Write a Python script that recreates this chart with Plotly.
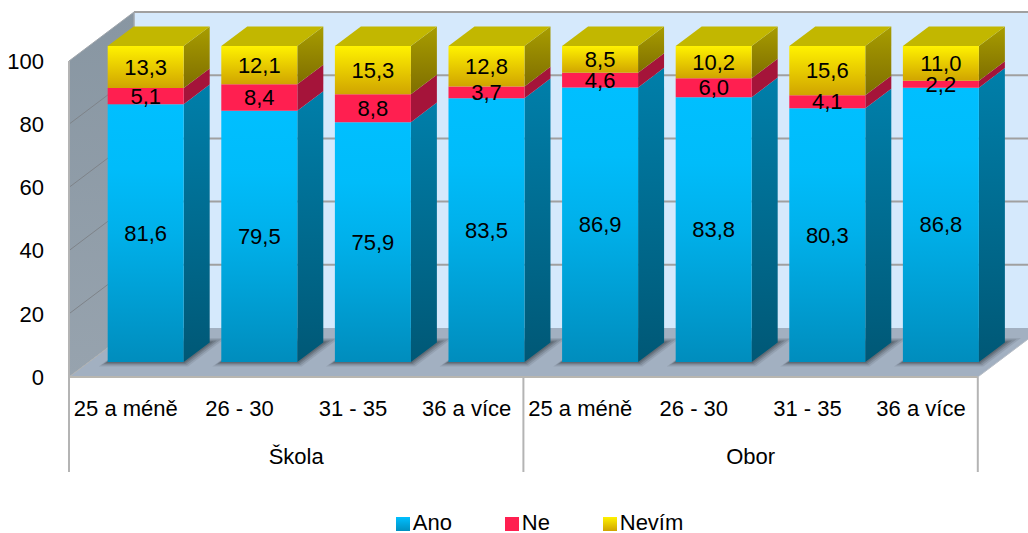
import plotly.graph_objects as go

groups = ["Škola", "Obor"]
categories = ["25 a méně", "26 - 30", "31 - 35", "36 a více"] * 2
ano = [81.6, 79.5, 75.9, 83.5, 86.9, 83.8, 80.3, 86.8]
ne = [5.1, 8.4, 8.8, 3.7, 4.6, 6.0, 4.1, 2.2]
nevim = [13.3, 12.1, 15.3, 12.8, 8.5, 10.2, 15.6, 11.0]
series_names = ["Ano", "Ne", "Nevím"]
y_ticks = [0, 20, 40, 60, 80, 100]

W, H = 1028, 533
PITCH = 113.6      # px per category
SCALE = 3.16       # px per value unit
LEFT = 60
X0 = 69            # px of front plane start
Y0 = 377           # px of value 0 on the front plane
DEPTH_X = 65 / PITCH
DEPTH_Y = 49 / SCALE
BAR_W = 76 / PITCH
D1, D2 = 0.306, 0.706  # bar depth span
FONT = "Liberation Sans, Arial, sans-serif"
FS = 22
TEXT_NUDGE = 2 / SCALE
n = len(categories)

xmin = (LEFT - X0) / PITCH
xmax = (W - X0) / PITCH
ymin = (Y0 - H) / SCALE
ymax = Y0 / SCALE


def pr(x, y, d=0.0):
    """Oblique projection: x (category units), y (value), d (depth 0..1)."""
    return x + d * DEPTH_X, y + d * DEPTH_Y


def poly(pts):
    xs, ys = zip(*[pr(*p) for p in pts])
    return list(xs) + [xs[0]], list(ys) + [ys[0]]


fig = go.Figure()


def face(pts, color=None, grad=None):
    xs, ys = poly(pts)
    t = dict(x=xs, y=ys, mode="none", fill="toself", hoverinfo="skip", showlegend=False)
    if grad:
        t["fillgradient"] = dict(type="vertical", colorscale=grad)
    else:
        t["fillcolor"] = color
    fig.add_trace(go.Scatter(**t))


def line(pts, color, width):
    xs, ys = zip(*[pr(*p) for p in pts])
    fig.add_trace(go.Scatter(x=list(xs), y=list(ys), mode="lines", hoverinfo="skip", showlegend=False,
                             line=dict(color=color, width=width), cliponaxis=False))


# Walls and floor
face([(0, 0, 1), (9, 0, 1), (9, 100, 1), (0, 100, 1)], color="#D5E9FC")
face([(0, 0, 0), (0, 0, 1), (0, 100, 1), (0, 100, 0)],
     grad=[[0, "#97A3AE"], [1, "#8896A2"]])
face([(0, 0, 0), (8, 0, 0), (8, 0, 1), (0, 0, 1)], color="#A2B0C1")

for t in y_ticks[1:-1]:
    line([(0, t, 1), (9, t, 1)], "#A0A0A0", 2)
    line([(0, t, 0), (0, t, 1)], "#7E8389", 1)
line([(0, 100, 1), (9, 100, 1)], "#A0A0A0", 2)
line([(0, 100, 0), (0, 100, 1)], "#A0A6AC", 1)
line([(0, 100, 1), (0, 0, 1)], "#A0A6AC", 1.5)
line([(0, 0, 0), (0, 0, 1)], "#AEB0B0", 1)
line([(8, 0, 0), (8, 0, 1)], "#B8BEC6", 1)

# Soft shadows on the floor
for grow, alpha in [(0.09, 0.10), (0.065, 0.16), (0.04, 0.2), (0.02, 0.22)]:
    for i in range(n):
        c = i + 0.5
        a = c - BAR_W / 2 - grow * 0.3
        b = c + BAR_W / 2 + grow
        d1, d2 = D1 - grow, D2 + grow
        face([(a, 0, d1), (b, 0, d1), (b, 0, d2), (a, 0, d2)], color=f"rgba(40,44,50,{alpha})")

# Bars
front_grads = [
    [[0, "#008DBD"], [0.5, "#00B0EA"], [0.75, "#00BCFA"], [1, "#00BFFF"]],
    [[0, "#FF1F50"], [1, "#FF1F50"]],
    [[0, "#D0A400"], [1, "#FFF200"]],
]
side_grads = [
    [[0, "#005876"], [1, "#007FAA"]],
    [[0, "#A5143A"], [1, "#A5143A"]],
    [[0, "#7F6E00"], [1, "#A89D00"]],
]
series = [ano, ne, nevim]
for i in range(n):
    c = i + 0.5
    a, b = c - BAR_W / 2, c + BAR_W / 2
    base = 0.0
    for s, vals in enumerate(series):
        top = base + vals[i]
        face([(b, base, D1), (b, base, D2), (b, top, D2), (b, top, D1)], grad=side_grads[s])
        face([(a, base, D1), (b, base, D1), (b, top, D1), (a, top, D1)], grad=front_grads[s])
        base = top
    face([(a, base, D1), (b, base, D1), (b, base, D2), (a, base, D2)], color="#C2B700")

# Value labels
for vals, start in zip(series, [[0] * n, ano, [p + q for p, q in zip(ano, ne)]]):
    xs, ys = [], []
    for i in range(n):
        x, y = pr(i + 0.5, start[i] + vals[i] / 2, D1)
        xs.append(x)
        ys.append(y - TEXT_NUDGE)
    fig.add_trace(go.Scatter(x=xs, y=ys, mode="text", hoverinfo="skip", showlegend=False, cliponaxis=False,
                             text=[f"{v:.1f}".replace(".", ",") for v in vals],
                             textposition="middle center",
                             textfont=dict(family=FONT, size=FS, color="#000000")))

# Multi-level category axis
AXIS_LINE = "#B4B4B4"
CAT_Y = (Y0 - 410) / SCALE
GRP_Y = (Y0 - 458) / SCALE
SEP_Y = (Y0 - 472) / SCALE
line([(0, 0, 0), (8, 0, 0)], "#B8B6B0", 2)
for k in (0, 4, 8):
    line([(k, 100 if k == 0 else 0, 0), (k, SEP_Y, 0)], AXIS_LINE, 2)
fig.add_trace(go.Scatter(x=[i + 0.5 for i in range(n)], y=[CAT_Y] * n, mode="text", hoverinfo="skip",
                         showlegend=False, cliponaxis=False, text=categories, textposition="middle center",
                         textfont=dict(family=FONT, size=FS, color="#000000")))
fig.add_trace(go.Scatter(x=[2, 6], y=[GRP_Y] * 2, mode="text", hoverinfo="skip", showlegend=False,
                         cliponaxis=False, text=groups, textposition="middle center",
                         textfont=dict(family=FONT, size=FS, color="#000000")))

# Legend keys, placed exactly as in the reference
legend_px = [403, 512, 610]
legend_top = ["#00BFFF", "#FF1F50", "#FFF200"]
legend_bottom = ["#0090C0", "#FF1F50", "#D0A400"]
LEG_Y = (Y0 - 524) / SCALE
for name, px, c1, c2 in zip(series_names, legend_px, legend_top, legend_bottom):
    fig.add_trace(go.Scatter(x=[(px - X0) / PITCH], y=[LEG_Y], mode="markers+text", name=name,
                             text=[name], textposition="middle right", showlegend=False,
                             hoverinfo="skip", cliponaxis=False,
                             textfont=dict(family=FONT, size=FS, color="#000000"),
                             marker=dict(symbol="square", size=14, color=c1, line=dict(width=0),
                                         gradient=dict(type="vertical", color=c2))))

fig.update_layout(
    width=W, height=H, margin=dict(l=LEFT, r=0, t=0, b=0, autoexpand=False), autosize=False,
    paper_bgcolor="#FFFFFF", plot_bgcolor="#FFFFFF", showlegend=False,
    xaxis=dict(range=[xmin, xmax], visible=False, fixedrange=True, automargin=False),
    yaxis=dict(range=[ymin, ymax], tickvals=y_ticks, showgrid=False, zeroline=False, showline=False,
               ticks="", ticklabelstandoff=15, fixedrange=True, automargin=False,
               tickfont=dict(family=FONT, size=FS, color="#000000")),
)
fig.write_html("out.html", config=dict(displayModeBar=False),
               post_script="document.body.style.margin='0';document.body.style.overflow='hidden';")
